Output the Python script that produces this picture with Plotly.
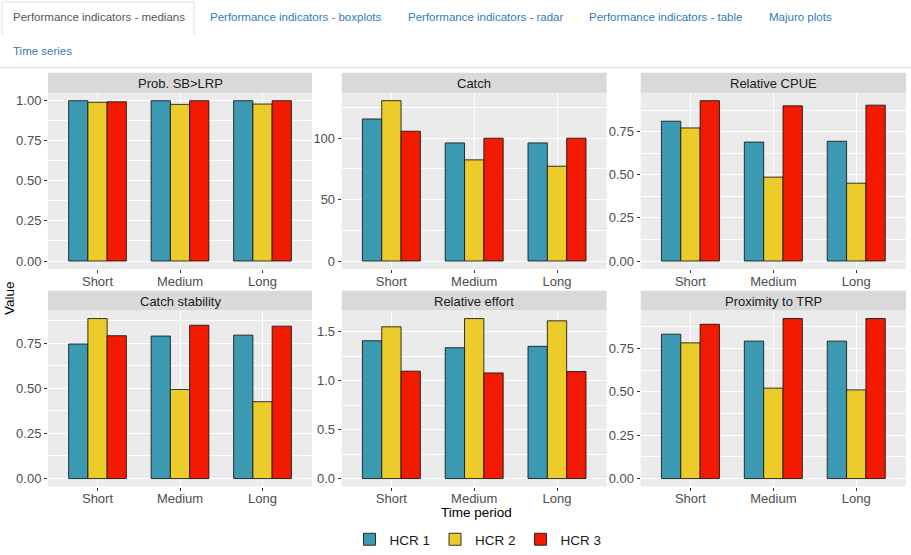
import plotly.graph_objects as go

# ---------------- data ----------------
periods = ["Short", "Medium", "Long"]
hcr_names = ["HCR 1", "HCR 2", "HCR 3"]
hcr_colors = ["#3B9AB2", "#EBCC2A", "#F21A00"]

panel_titles = ["Prob. SB>LRP", "Catch", "Relative CPUE",
                "Catch stability", "Relative effort", "Proximity to TRP"]

# values per HCR, ordered Short, Medium, Long
prob_sb_lrp_hcr1 = [1.000, 1.000, 1.000]
prob_sb_lrp_hcr2 = [0.990, 0.977, 0.979]
prob_sb_lrp_hcr3 = [0.993, 1.000, 1.000]

catch_hcr1 = [115.7, 96.2, 96.2]
catch_hcr2 = [130.6, 82.4, 77.2]
catch_hcr3 = [105.7, 100.0, 100.0]

rel_cpue_hcr1 = [0.810, 0.689, 0.694]
rel_cpue_hcr2 = [0.771, 0.486, 0.451]
rel_cpue_hcr3 = [0.929, 0.899, 0.903]

catch_stab_hcr1 = [0.746, 0.790, 0.795]
catch_stab_hcr2 = [0.887, 0.494, 0.426]
catch_stab_hcr3 = [0.792, 0.850, 0.845]

rel_effort_hcr1 = [1.409, 1.338, 1.352]
rel_effort_hcr2 = [1.552, 1.636, 1.613]
rel_effort_hcr3 = [1.098, 1.080, 1.094]

prox_trp_hcr1 = [0.832, 0.792, 0.792]
prox_trp_hcr2 = [0.782, 0.521, 0.511]
prox_trp_hcr3 = [0.889, 0.922, 0.922]

panel_values = [
    [prob_sb_lrp_hcr1, prob_sb_lrp_hcr2, prob_sb_lrp_hcr3],
    [catch_hcr1, catch_hcr2, catch_hcr3],
    [rel_cpue_hcr1, rel_cpue_hcr2, rel_cpue_hcr3],
    [catch_stab_hcr1, catch_stab_hcr2, catch_stab_hcr3],
    [rel_effort_hcr1, rel_effort_hcr2, rel_effort_hcr3],
    [prox_trp_hcr1, prox_trp_hcr2, prox_trp_hcr3],
]
tick_steps = [0.25, 50, 0.25, 0.25, 0.5, 0.25]
tick_formats = [".2f", "d", ".2f", ".2f", ".1f", ".2f"]

tab_labels_row1 = ["Performance indicators - medians", "Performance indicators - boxplots",
                   "Performance indicators - radar", "Performance indicators - table",
                   "Majuro plots"]
tab_labels_row2 = ["Time series"]

# ---------------- layout (pixels) ----------------
W, H = 911, 555
col_px = [(48, 312), (341.7, 606.7), (640.7, 906)]
row_px = [(93, 270, 73), (311.7, 488.3, 291.7)]  # plot top, plot bottom, strip top
tab_x_row1 = [12, 209, 407, 588, 768]

FONT = "Arial, Liberation Sans, Helvetica, sans-serif"
TICK_SIZE = 13

def px_x(x):
    return x / W

def px_y(y):
    return 1 - y / H

fig = go.Figure()
layout = dict(
    width=W, height=H,
    margin=dict(l=0, r=0, t=0, b=0),
    paper_bgcolor="white",
    plot_bgcolor="#EBEBEB",
    barmode="group",
    bargap=0.3,
    bargroupgap=0,
    font=dict(family=FONT, size=TICK_SIZE, color="#4D4D4D"),
    showlegend=True,
    legend=dict(orientation="h", x=px_x(478), xanchor="center",
                y=px_y(541.5), yanchor="middle",
                font=dict(size=13.5, color="#1A1A1A"),
                itemwidth=30, tracegroupgap=0, bgcolor="rgba(0,0,0,0)"),
)

shapes = []
annotations = []

for p in range(6):
    r, c = divmod(p, 3)
    idx = "" if p == 0 else str(p + 1)
    xa, ya = "x" + idx, "y" + idx
    vals = panel_values[p]
    for h in range(3):
        fig.add_trace(go.Bar(
            x=periods, y=vals[h], name=hcr_names[h],
            marker=dict(color=hcr_colors[h], line=dict(color="rgba(20,20,20,0.85)", width=1)),
            xaxis=xa, yaxis=ya, legendgroup=hcr_names[h], showlegend=(p == 0),
            offsetgroup=str(h),
        ))
    ymax = max(max(v) for v in vals)
    x0, x1 = col_px[c]
    ptop, pbot, stop = row_px[r]
    step = tick_steps[p]
    layout["xaxis" + idx] = dict(
        domain=[px_x(x0), px_x(x1)], anchor=ya,
        type="category", categoryorder="array", categoryarray=periods,
        range=[-0.6, 2.6], showgrid=True, gridcolor="white", gridwidth=1.1,
        ticks="outside", ticklen=3, tickcolor="#333333", tickwidth=1,
        ticklabelstandoff=-3,
        tickfont=dict(size=TICK_SIZE, color="#4D4D4D"),
        showline=False, zeroline=False, fixedrange=True,
    )
    layout["yaxis" + idx] = dict(
        domain=[px_y(pbot), px_y(ptop)], anchor=xa,
        range=[-0.05 * ymax, 1.05 * ymax],
        tick0=0, dtick=step, tickformat=tick_formats[p],
        showgrid=True, gridcolor="white", gridwidth=1.1,
        minor=dict(tick0=0, dtick=step / 2, showgrid=True, gridcolor="white", gridwidth=0.55),
        ticks="outside", ticklen=3, tickcolor="#333333", tickwidth=1,
        tickfont=dict(size=TICK_SIZE, color="#4D4D4D"),
        showline=False, zeroline=False, fixedrange=True,
    )
    # facet strip
    shapes.append(dict(type="rect", xref="paper", yref="paper",
                       x0=px_x(x0), x1=px_x(x1), y0=px_y(ptop), y1=px_y(stop),
                       fillcolor="#D9D9D9", line=dict(width=0), layer="below"))
    annotations.append(dict(text=panel_titles[p], xref="paper", yref="paper",
                            x=px_x((x0 + x1) / 2), y=px_y((ptop + stop) / 2 + 0.5),
                            xanchor="center", yanchor="middle", showarrow=False,
                            font=dict(size=13, color="#1A1A1A")))

# axis titles
annotations.append(dict(text="Time period", xref="paper", yref="paper",
                        x=px_x(477), y=px_y(514.5), xanchor="center", yanchor="middle",
                        showarrow=False, font=dict(size=13.5, color="#000000")))
annotations.append(dict(text="Value", xref="paper", yref="paper",
                        x=px_x(10), y=px_y(299), xanchor="center", yanchor="middle",
                        textangle=-90, showarrow=False, font=dict(size=13.5, color="#000000")))

# tabs
for i, lab in enumerate(tab_labels_row1):
    annotations.append(dict(text=lab, xref="paper", yref="paper",
                            x=px_x(tab_x_row1[i] - 1), y=px_y(17.5), xanchor="left", yanchor="middle",
                            showarrow=False,
                            font=dict(size=11.5, color="#555555" if i == 0 else "#337AB7")))
for lab in tab_labels_row2:
    annotations.append(dict(text=lab, xref="paper", yref="paper",
                            x=px_x(11), y=px_y(51), xanchor="left", yanchor="middle",
                            showarrow=False, font=dict(size=11.5, color="#337AB7")))
# active tab outline and nav bottom border
shapes.append(dict(type="path", xref="paper", yref="paper",
                   path=f"M {px_x(2)},{px_y(35)} L {px_x(2)},{px_y(2)} L {px_x(194)},{px_y(2)} L {px_x(194)},{px_y(35)}",
                   line=dict(color="#DDDDDD", width=1)))
shapes.append(dict(type="line", xref="paper", yref="paper",
                   x0=0, x1=1, y0=px_y(68), y1=px_y(68),
                   line=dict(color="#DDDDDD", width=1)))

layout["shapes"] = shapes
layout["annotations"] = annotations
fig.update_layout(**layout)

fig.write_html("out.html", config={"displayModeBar": False},
               post_script="document.body.style.margin='0';")
